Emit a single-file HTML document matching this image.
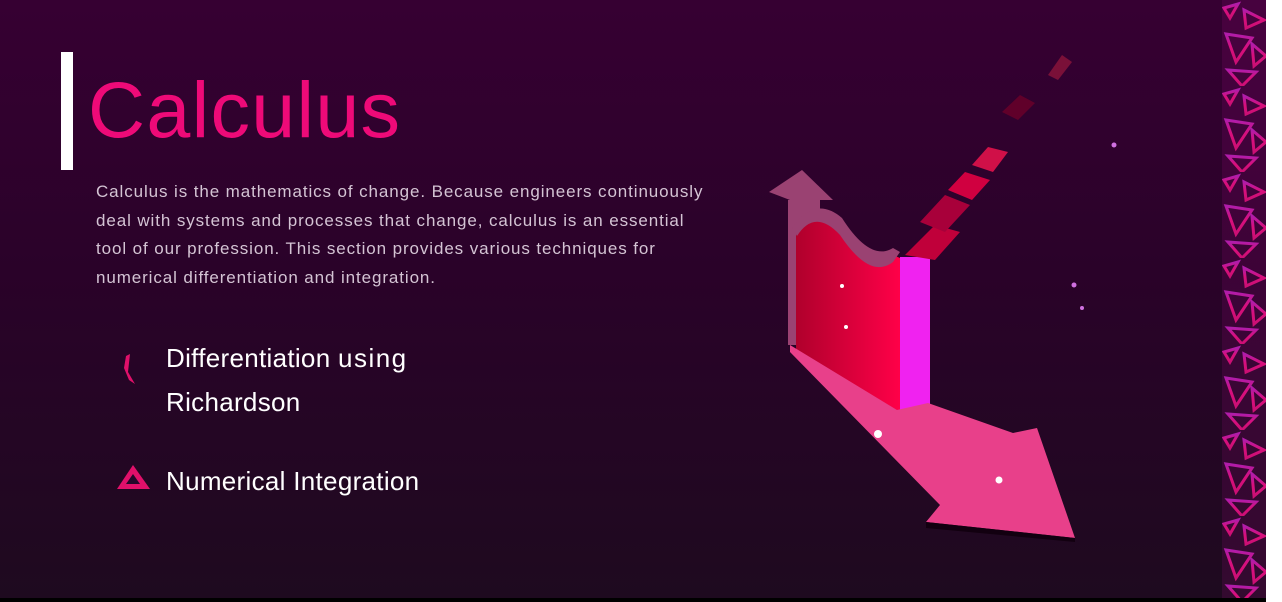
<!DOCTYPE html>
<html><head><meta charset="utf-8"><style>
html,body{margin:0;padding:0}
body{width:1282px;height:602px;overflow:hidden;position:relative;background:linear-gradient(#360032 0%,#2a0229 45%,#1e0a1f 100%);font-family:"Liberation Sans",sans-serif}
.bar{position:absolute;left:61px;top:52px;width:12px;height:118px;background:#fff}
h1{position:absolute;left:88px;top:60px;margin:0;font-weight:normal;font-size:79px;color:#ee0a78;letter-spacing:1.3px;line-height:100px}
p{position:absolute;left:96px;top:178px;width:720px;margin:0;font-size:17px;line-height:28.6px;color:#d4c4d4;letter-spacing:0.9px}
.li{position:absolute;left:166px;color:#fff;font-size:26px;line-height:44px;letter-spacing:0.3px}
.white{position:absolute;left:1266px;top:0;width:16px;height:602px;background:#fff}
.blk{position:absolute;left:0;top:598px;width:1266px;height:4px;background:#000}
</style></head><body>
<div class="bar"></div>
<h1>Calculus</h1>
<p>Calculus is the mathematics of change. Because engineers continuously<br>deal with systems and processes that change, calculus is an essential<br>tool of our profession. This section provides various techniques for<br>numerical differentiation and integration.</p>
<div class="li" style="top:336px">Differentiation <span style="letter-spacing:1.5px">using</span><br>Richardson</div>
<div class="li" style="top:459px">Numerical Integration</div>
<svg style="position:absolute;left:0;top:0" width="1282" height="602">
<defs>
<linearGradient id="st" x1="0" y1="0" x2="0" y2="1"><stop offset="0" stop-color="#b020b0"/><stop offset="0.5" stop-color="#e0107a"/><stop offset="1" stop-color="#d01070"/></linearGradient>
<pattern id="tri" width="46" height="86" patternUnits="userSpaceOnUse" x="1222" y="0">
<g fill="none" stroke="url(#st)" stroke-width="3">
<polygon points="4,34 30,38 14,62"/><polygon points="22,10 42,20 24,28"/><polygon points="6,70 34,72 20,86"/><polygon points="30,44 44,56 32,66"/><polygon points="2,8 16,4 8,18"/>
</g></pattern>
<linearGradient id="wall" x1="0" x2="1"><stop offset="0" stop-color="#b0002c"/><stop offset="1" stop-color="#ff0048"/></linearGradient>
</defs>
<rect x="1222" y="0" width="44" height="598" fill="url(#tri)"/>
<rect x="1222" y="0" width="44" height="598" fill="#b01090" opacity="0.15"/>
<polygon points="802,170 833,200 820,200 820,230 790,238 790,340 790,200 769,192" fill="#9a4272"/>
<rect x="788" y="200" width="10" height="145" fill="#9a4272"/>
<path d="M796,230 Q815,200 840,225 Q870,268 893,255 L900,258 L900,412 L796,350 Z" fill="url(#wall)"/>
<path d="M792,228 Q815,195 842,218 Q870,262 893,248 L900,252 L893,262 Q870,280 840,235 Q815,208 797,236 Z" fill="#9a4272"/>
<rect x="900" y="257" width="30" height="156" fill="#f022f0"/>
<polygon points="790,345 897,410 928,403 1013,433 1037,428 1075,538 926,522 940,505 790,352" fill="#e8408a"/>
<polygon points="926,522 1075,538 1075,542 926,528" fill="#120010"/>
<g fill="#c0003a">
<polygon points="905,255 935,225 960,232 935,260"/>
<polygon points="920,222 945,195 970,205 945,232" fill="#a8003a"/>
<polygon points="948,190 965,172 990,180 972,200" fill="#d00040"/>
<polygon points="972,165 988,147 1008,152 993,172" fill="#d01048"/>
<polygon points="1002,112 1020,95 1035,103 1018,120" fill="#60002a"/>
<polygon points="1048,75 1062,55 1072,62 1058,80" fill="#7a1038"/>
</g>
<g fill="#fff"><circle cx="878" cy="434" r="4"/><circle cx="999" cy="480" r="3.5"/><circle cx="846" cy="327" r="2"/><circle cx="842" cy="286" r="2"/></g>
<g fill="#d070e0"><circle cx="1114" cy="145" r="2.5"/><circle cx="1074" cy="285" r="2.5"/><circle cx="1082" cy="308" r="2"/></g>
<polygon points="126,356 130,354 128,372 135,384 129,380 124,368" fill="#e0106a"/>
<polygon points="133,465 150,489 117,489" fill="#e0106a"/>
<polygon points="133,474 140,484 126,484" fill="#23082a"/>
</svg>
<div class="white"></div>
<div class="blk"></div>
</body></html>
